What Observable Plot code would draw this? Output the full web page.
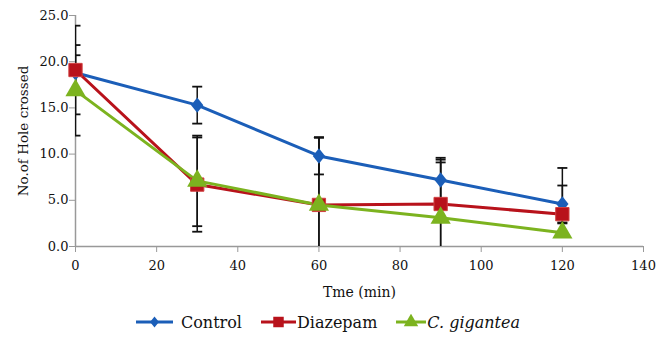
<!DOCTYPE html>
<html><head><meta charset="utf-8">
<script src="https://cdn.jsdelivr.net/npm/d3@7"></script>
<script src="https://cdn.jsdelivr.net/npm/@observablehq/plot@0.6"></script>
<style>
body{margin:0;background:#fff;font-family:"DejaVu Serif";}
#legend{display:flex;justify-content:center;align-items:center;gap:19px;font-size:16px;color:#111;height:34px;margin-top:0px;padding-left:0px}
#legend span{display:flex;align-items:center}
</style></head><body>
<div id="chart"></div>
<div id="legend"></div>
<script>
const FONT = '"DejaVu Serif"';
const times = [0, 30, 60, 90, 120];
const seriesNames = ["Control", "Diazepam", "C. gigantea"];
const controlMean = [18.8, 15.3, 9.8, 7.2, 4.6];
const controlErrUp = [1.9, 2.0, 2.0, 2.2, 2.0];
const controlErrDown = [1.9, 2.0, 2.0, 2.2, 2.0];
const diazepamMean = [19.1, 6.7, 4.5, 4.6, 3.5];
const diazepamErrUp = [4.8, 5.1, 7.3, 5.0, 5.0];
const diazepamErrDown = [4.8, 5.1, 7.3, 5.0, 1.0];
const giganteaMean = [16.9, 7.1, 4.5, 3.1, 1.5];
const giganteaErrUp = [4.9, 4.9, 7.3, 6.0, 0];
const giganteaErrDown = [4.9, 4.9, 7.3, 6.0, 0];
const colors = ["#1b5eb8", "#b8121b", "#7cb31f"];
const xTicks = [0, 20, 40, 60, 80, 100, 120, 140];
const yTicks = [0, 5, 10, 15, 20, 25];

const means = [controlMean, diazepamMean, giganteaMean];
const ups = [controlErrUp, diazepamErrUp, giganteaErrUp];
const downs = [controlErrDown, diazepamErrDown, giganteaErrDown];
const data = [];
seriesNames.forEach((s, i) => times.forEach((t, j) => data.push({series: s, t, y: means[i][j], lo: means[i][j] - downs[i][j], hi: means[i][j] + ups[i][j]})));
const bars = data.filter(d => d.hi > d.lo);
const caps = bars.flatMap(d => [{t: d.t, y: d.lo}, {t: d.t, y: d.hi}]);

const capSymbol = {draw(ctx, size) { const w = 5; ctx.moveTo(-w, 0); ctx.lineTo(w, 0); }};
const diamondSym = {draw(ctx, size) { const h = Math.sqrt(size) * 0.62, w = h * 0.8; ctx.moveTo(0, -h); ctx.lineTo(w, 0); ctx.lineTo(0, h); ctx.lineTo(-w, 0); ctx.closePath(); }};
const colorOf = Object.fromEntries(seriesNames.map((s, i) => [s, colors[i]]));

const plot = Plot.plot({
  width: 656, height: 305,
  marginLeft: 75, marginRight: 13, marginTop: 15, marginBottom: 59,
  style: {fontFamily: FONT, fontSize: "14px", color: "#111", background: "#fff", overflow: "visible"},
  x: {domain: [0, 140]},
  y: {domain: [0, 25]},
  marks: [
    Plot.ruleY([0], {stroke: "#999", strokeWidth: 1.5}),
    Plot.ruleX([0], {stroke: "#999", strokeWidth: 1.5}),
    Plot.axisX({ticks: xTicks, tickSize: 6, tickPadding: 8, stroke: "#999", fill: "#111", fontSize: 13, fontFamily: FONT, label: null}),
    Plot.axisX({ticks: [], label: "Tme (min)", labelAnchor: "center", labelArrow: "none", labelOffset: 50, fontSize: 14, fontFamily: FONT, fill: "#111"}),
    Plot.axisY({ticks: yTicks, tickSize: 6, tickPadding: 1, stroke: "#999", fill: "#111", fontSize: 13, fontFamily: FONT, tickFormat: d3.format(".1f"), label: null}),
    Plot.axisY({ticks: [], label: "No.of Hole crossed", labelAnchor: "center", labelArrow: "none", labelOffset: 57, fontSize: 13.5, fontFamily: FONT, fill: "#111"}),
    Plot.line(data, {x: "t", y: "y", z: "series", stroke: d => colorOf[d.series], strokeWidth: 3}),
    Plot.ruleX(bars, {x: "t", y1: "lo", y2: "hi", stroke: "#111", strokeWidth: 1.5, clip: true}),
    Plot.dot(caps, {x: "t", y: "y", symbol: capSymbol, stroke: "#111", strokeWidth: 1.8, r: 5, clip: true}),
    Plot.dot(data.filter(d => d.series === "Control"), {x: "t", y: "y", symbol: diamondSym, r: 7, fill: colors[0]}),
    Plot.dot(data.filter(d => d.series === "Diazepam"), {x: "t", y: "y", symbol: "square", r: 7.5, fill: colors[1], stroke: "#d04040", strokeWidth: 1}),
    Plot.dot(data.filter(d => d.series === "C. gigantea"), {x: "t", y: "y", symbol: "triangle", r: 7.5, fill: colors[2]})
  ]
});
document.getElementById("chart").append(plot);

const legend = document.getElementById("legend");
const swatchSyms = [d3.symbol(diamondSym, 80), d3.symbol(d3.symbolSquare, 110), d3.symbol(d3.symbolTriangle, 90)];
const swatchW = [37, 35, 30];
const textGap = [8, 1, 1];
seriesNames.forEach((s, i) => {
  const item = document.createElement("span");
  const w = swatchW[i];
  const svg = d3.create("svg").attr("width", w).attr("height", 16);
  svg.append("line").attr("x1", 0).attr("x2", w).attr("y1", 8).attr("y2", 8).attr("stroke", colors[i]).attr("stroke-width", 3);
  svg.append("path").attr("d", swatchSyms[i]()).attr("transform", `translate(${w / 2},8)`).attr("fill", colors[i]);
  item.append(svg.node());
  const label = document.createElement("span");
  label.textContent = s;
  label.style.marginLeft = textGap[i] + "px";
  if (i === 2) label.style.fontStyle = "italic";
  item.append(label);
  legend.append(item);
});
</script>
</body></html>
